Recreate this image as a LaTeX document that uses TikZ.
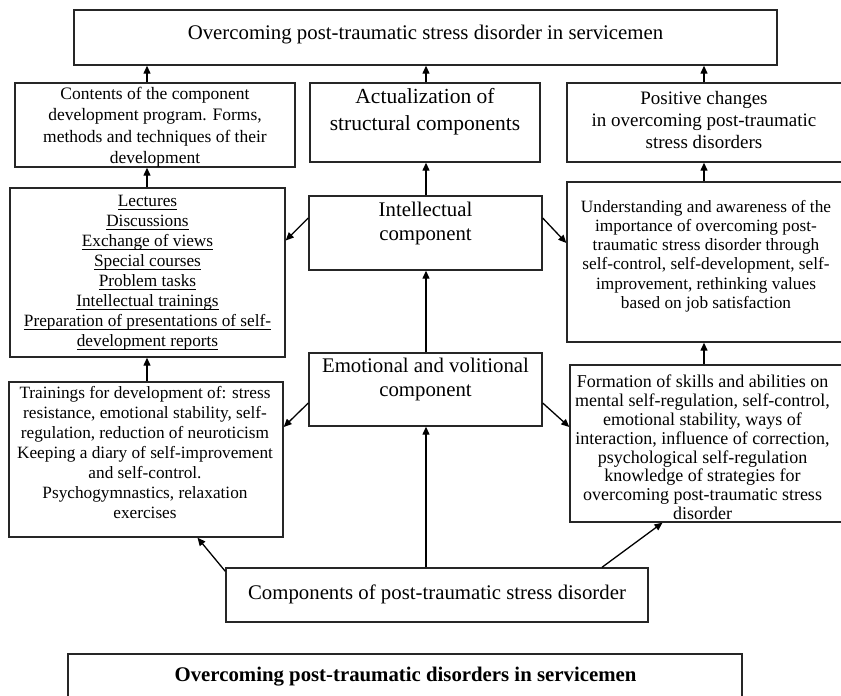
\documentclass[tikz,border=0pt]{standalone}
\usepackage{fontspec}
\setmainfont{Liberation Serif}
\usetikzlibrary{arrows.meta}
\newcommand\ulx[1]{\setbox0\hbox{#1}\rlap{\rule[-2.6pt]{\wd0}{0.9pt}}\box0}
\begin{document}
\begin{tikzpicture}[x=1pt,y=-1pt,
  box/.style={draw=black!85,line width=1.4pt,inner sep=0pt,fill=none},
  fA/.style={font=\fontsize{20.8}{23.5}\selectfont,align=center,inner sep=0pt},
  fB/.style={font=\fontsize{17.5}{21.5}\selectfont,align=center,inner sep=0pt},
  fC/.style={font=\fontsize{17.25}{20}\selectfont,align=center,inner sep=0pt},
  arr/.style={line width=1.3pt,-{Triangle[length=8pt,width=7pt]}}]
\useasboundingbox[fill=white] (0,0) rectangle (841,696);
% columns
\coordinate (colL) at (147,0);
\coordinate (colM) at (426,0);
\coordinate (colR) at (704,0);
% boxes
\node[box,minimum width=703pt,minimum height=55pt] (top) at (425.5,37.5) {};
\node[box,minimum width=280pt,minimum height=84pt] (contents) at (155,125) {};
\node[box,minimum width=230pt,minimum height=79pt] (actual) at (425,122.5) {};
\node[box,minimum width=278pt,minimum height=79pt] (positive) at (706,122.5) {};
\node[box,minimum width=275pt,minimum height=169pt] (lectures) at (147.5,272.5) {};
\node[box,minimum width=233pt,minimum height=74pt] (intel) at (425.5,233) {};
\node[box,minimum width=278pt,minimum height=160pt] (underst) at (706,262) {};
\node[box,minimum width=233pt,minimum height=73pt] (emo) at (425.5,389.5) {};
\node[box,minimum width=274pt,minimum height=155pt] (trainings) at (146,459.5) {};
\node[box,minimum width=275pt,minimum height=157pt] (formation) at (707.5,443.5) {};
\node[box,minimum width=422pt,minimum height=54pt] (comp) at (437,595) {};
\node[box,minimum width=674pt,minimum height=60pt] (bottom) at (405,684) {};
% texts
\node[fA] (topT) at (425.5,35) {Overcoming post-traumatic stress disorder in servicemen};
\node[fB] (contentsT) at (155,127) {Contents of the component\\development program. Forms,\\methods and techniques of their\\development};
\node[fA,font=\fontsize{21.5}{27}\selectfont] (actualT) at (425,112) {Actualization of\\structural components};
\node[fB,font=\fontsize{19}{22}\selectfont] (positiveT) at (704,120) {Positive changes\\in overcoming post-traumatic\\stress disorders};
\node[fC] (lecturesT) at (147.5,273) {\ulx{Lectures}\\\ulx{Discussions}\\\ulx{Exchange of views}\\\ulx{Special courses}\\\ulx{Problem tasks}\\\ulx{Intellectual trainings}\\\ulx{Preparation of presentations of self-}\\\ulx{development reports}};
\node[fA] (intelT) at (425.5,223.5) {Intellectual\\component};
\node[fC,font=\fontsize{17.25}{19.2}\selectfont] (understT) at (706,256) {Understanding and awareness of the\\importance of overcoming post-\\traumatic stress disorder through\\self-control, self-development, self-\\improvement, rethinking values\\based on job satisfaction};
\node[fA] (emoT) at (425.5,379.5) {Emotional and volitional\\component};
\node[fC] (trainingsT) at (145,453) {Trainings for development of: stress\\resistance, emotional stability, self-\\regulation, reduction of neuroticism\\Keeping a diary of self-improvement\\and self-control.\\Psychogymnastics, relaxation\\exercises};
\node[fC,font=\fontsize{18}{18.8}\selectfont] (formationT) at (702.5,447.5) {Formation of skills and abilities on\\mental self-regulation, self-control,\\emotional stability, ways of\\interaction, influence of correction,\\psychological self-regulation\\knowledge of strategies for\\overcoming post-traumatic stress\\disorder};
\node[fA] (compT) at (437,594) {Components of post-traumatic stress disorder};
\node[fA,font=\bfseries\fontsize{20.8}{24}\selectfont] (bottomT) at (405.5,677) {Overcoming post-traumatic disorders in servicemen};
% vertical arrows
\draw[arr] (colL |- contents.north) -- (colL |- top.south);
\draw[arr] (colM |- actual.north) -- (colM |- top.south);
\draw[arr] (colR |- positive.north) -- (colR |- top.south);
\draw[arr] (colL |- lectures.north) -- (colL |- contents.south);
\draw[arr] (colM |- intel.north) -- (colM |- actual.south);
\draw[arr] (colR |- underst.north) -- (colR |- positive.south);
\draw[arr] (colL |- trainings.north) -- (colL |- lectures.south);
\draw[arr] (colM |- emo.north) -- (colM |- intel.south);
\draw[arr] (colR |- formation.north) -- (colR |- underst.south);
\draw[arr] (colM |- comp.north) -- (colM |- emo.south);
% diagonal arrows
\draw[arr] ([yshift=15pt]intel.west) -- ([yshift=32pt]lectures.east);
\draw[arr] ([yshift=15pt]intel.east) -- ([yshift=19pt]underst.west);
\draw[arr] ([yshift=-13.5pt]emo.west) -- ([yshift=32.5pt]trainings.east);
\draw[arr] ([yshift=-13.5pt]emo.east) -- ([yshift=16.5pt]formation.west);
\draw[arr] ([yshift=-4pt]comp.north west) -- ([xshift=51.5pt]trainings.south);
\draw[arr] ([xshift=165pt]comp.north) -- ([xshift=-45pt]formation.south);
\end{tikzpicture}
\end{document}
